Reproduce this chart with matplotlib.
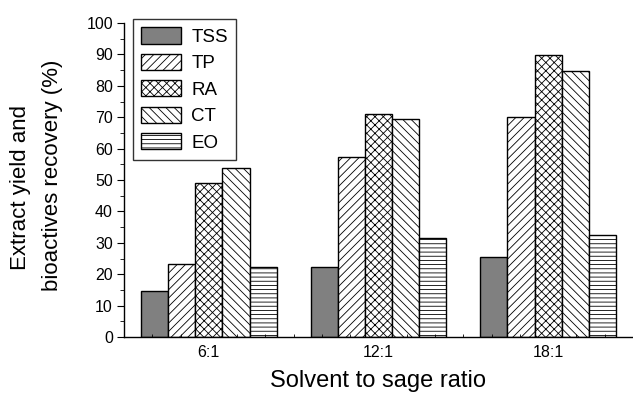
import matplotlib
matplotlib.use("Agg")
import matplotlib.pyplot as plt
import numpy as np
from matplotlib.ticker import MultipleLocator

plt.rcParams['font.family'] = ['Liberation Sans', 'DejaVu Sans']
plt.rcParams['hatch.linewidth'] = 0.6

categories = ["6:1", "12:1", "18:1"]
series_names = ["TSS", "TP", "RA", "CT", "EO"]
TSS = [14.8, 22.2, 25.4]
TP = [23.1, 57.4, 70.0]
RA = [49.2, 71.0, 89.8]
CT = [53.7, 69.4, 84.6]
EO = [22.3, 31.4, 32.6]
values = [TSS, TP, RA, CT, EO]

hatches = [None, '////', 'xxxx', '\\\\\\\\', '----']
faces = ['#808080', 'white', 'white', 'white', 'white']

W, H = 633, 395
fig = plt.figure(figsize=(W / 100, H / 100), dpi=100)
ax = fig.add_axes([124 / W, 1 - 337 / H, (633 - 124) / W, (337 - 23) / H])

x = np.arange(len(categories))
w = 0.16
for i, (name, vals) in enumerate(zip(series_names, values)):
    ax.bar(x + (i - 2) * w, vals, w, color=faces[i], edgecolor='black',
           hatch=hatches[i], linewidth=1.0, label=name)

ax.set_xlim(-0.5, 2.5)
ax.set_ylim(0, 100)
ax.set_xticks(x)
ax.set_xticklabels(categories)
ax.xaxis.set_minor_locator(MultipleLocator(1 / 6))
ax.tick_params(axis='x', which='major', length=0, pad=6, labelsize=11.5)
ax.tick_params(axis='x', which='minor', length=2, direction='in')
ax.yaxis.set_major_locator(MultipleLocator(10))
ax.yaxis.set_minor_locator(MultipleLocator(5))
ax.tick_params(axis='y', which='major', length=5, direction='out', labelsize=11.5, pad=3)
ax.tick_params(axis='y', which='minor', length=3, direction='out')

for s in ['top', 'right']:
    ax.spines[s].set_visible(False)
ax.spines['left'].set_linewidth(1.0)
ax.spines['bottom'].set_linewidth(1.0)

ax.set_xlabel("Solvent to sage ratio", fontsize=17, labelpad=7)

fig.text(21 / W, 1 - 188 / H, "Extract yield and", rotation=90, fontsize=16,
         ha='center', va='center')
fig.text(53 / W, 1 - 175 / H, "bioactives recovery (%)", rotation=90, fontsize=16,
         ha='center', va='center')

leg = ax.legend(loc='upper left', bbox_to_anchor=(9 / 509, 1 + 4 / 314), fontsize=13.5,
                frameon=True, fancybox=False, edgecolor='black',
                handlelength=2.1, handleheight=0.95, labelspacing=0.42,
                borderpad=0.45, handletextpad=0.55, borderaxespad=0)
leg.get_frame().set_linewidth(1.0)

fig.savefig("out.png", dpi=100)
